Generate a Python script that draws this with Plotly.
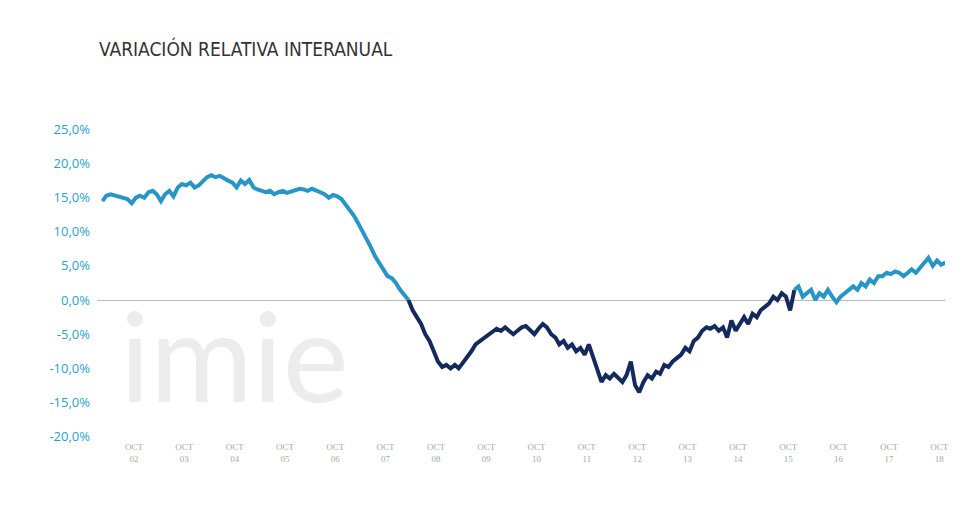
import plotly.graph_objects as go
import pandas as pd

values = [
    # 2002
    14.5,15.3,15.5,15.3,15.2,15.0,14.8,14.2,15.0,15.3,15.0,15.8,
    # 2003
    16.0,15.5,14.5,15.5,16.0,15.2,16.5,17.0,16.8,17.2,16.5,16.8,
    # 2004
    17.5,18.0,18.3,18.0,18.2,17.8,17.5,17.2,16.5,17.5,17.0,17.6,
    # 2005
    16.5,16.2,16.0,15.8,16.0,15.5,15.8,16.0,15.7,15.9,16.2,16.3,
    # 2006
    16.2,16.0,16.3,16.1,15.8,15.5,15.0,15.4,15.2,14.8,14.0,13.2,
    # 2007
    12.3,11.3,10.2,9.0,7.8,6.5,5.5,4.5,3.5,3.2,2.5,1.5,
    # 2008
    0.8,0.0,-1.5,-2.5,-3.5,-5.0,-6.0,-7.5,-9.0,-9.8,-9.5,-10.0,
    # 2009
    -9.5,-10.0,-9.2,-8.5,-7.5,-6.5,-6.0,-5.5,-5.0,-4.5,-4.2,-4.5,
    # 2010
    -4.0,-4.5,-5.0,-4.5,-4.0,-3.8,-4.5,-5.0,-4.2,-3.5,-4.0,-5.0,
    # 2011
    -5.5,-6.5,-6.0,-7.0,-6.5,-7.5,-7.0,-8.0,-6.5,-8.5,-10.0,-12.0,
    # 2012
    -11.0,-11.5,-10.8,-11.5,-12.0,-11.0,-9.0,-12.5,-13.5,-12.0,-11.0,-11.5,
    # 2013
    -10.5,-10.8,-9.5,-9.8,-9.0,-8.5,-8.0,-7.0,-7.5,-6.0,-5.5,-4.5,
    # 2014
    -4.0,-4.2,-3.8,-4.5,-4.0,-5.5,-3.0,-4.5,-3.5,-2.5,-3.5,-2.0,
    # 2015
    -2.5,-1.5,-1.0,-0.5,0.5,0.0,1.0,0.5,-1.5,1.5,2.0,0.5,
    # 2016
    1.0,1.5,0.0,1.0,0.5,1.5,0.5,-0.3,0.5,1.0,1.5,2.0,
    # 2017
    1.5,2.5,2.0,3.0,2.5,3.5,3.5,4.0,3.8,4.2,4.0,3.5,
    # 2018
    4.0,4.5,4.0,4.8,5.5,6.2,5.0,5.8,5.2,5.5,
]
dates = pd.date_range("2002-01-15", periods=len(values), freq="MS") + pd.Timedelta(days=14)
dark_start = 73   # Feb 2008
dark_end = 165    # Oct 2015

tick_years = list(range(2002, 2019))
tick_vals = [f"{y}-10-01" for y in tick_years]
tick_text = [f"OCT<br>{y % 100:02d}" for y in tick_years]
y_ticks = [25, 20, 15, 10, 5, 0, -5, -10, -15, -20]
y_text = [f"{v:.1f}".replace(".", ",") + "%" for v in y_ticks]

LIGHT = "#2796c6"
DARK = "#152a5c"

fig = go.Figure()
fig.add_trace(go.Scatter(x=dates[:dark_start + 1], y=values[:dark_start + 1], mode="lines",
                         line=dict(color=LIGHT, width=4)))
fig.add_trace(go.Scatter(x=dates[dark_start:dark_end + 1], y=values[dark_start:dark_end + 1], mode="lines",
                         line=dict(color=DARK, width=4)))
fig.add_trace(go.Scatter(x=dates[dark_end:], y=values[dark_end:], mode="lines",
                         line=dict(color=LIGHT, width=4)))

fig.add_annotation(text="imie", xref="paper", yref="paper", x=0.025, y=0.03,
                   xanchor="left", yanchor="bottom", showarrow=False,
                   font=dict(family="Lato", size=125, color="#ececef"))
fig.add_annotation(text="VARIACIÓN RELATIVA INTERANUAL", xref="paper", yref="paper",
                   x=0, y=1.205, xanchor="left", yanchor="bottom", showarrow=False,
                   font=dict(family="Liberation Sans Narrow, DejaVu Sans Condensed", size=19, color="#333333"))

fig.update_layout(
    width=980, height=506, showlegend=False,
    paper_bgcolor="white", plot_bgcolor="white",
    margin=dict(l=89, r=43, t=118, b=74),
    xaxis=dict(range=["2002-01-06", "2018-11-12"], tickvals=tick_vals, ticktext=tick_text,
               showgrid=False, zeroline=False, showline=False, ticks="",
               tickfont=dict(family="Liberation Sans Narrow", size=9, color="#a8a8a8")),
    yaxis=dict(range=[-20.5, 25.5], tickvals=y_ticks, ticktext=y_text, showgrid=False,
               zeroline=True, zerolinecolor="#bbbbbb", zerolinewidth=1, showline=False,
               tickfont=dict(family="Open Sans", size=13, color="#2a9fcc"), ticklabelstandoff=6),
)
fig.write_html("out.html")
